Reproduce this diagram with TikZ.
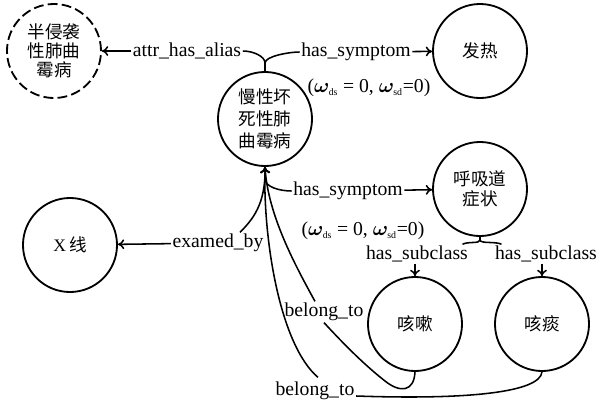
\documentclass[tikz,border=0pt]{standalone}
\usepackage{amsmath,bm}
\usepackage{fontspec}
\setmainfont{Liberation Serif}
\newfontfamily\cjk{Noto Sans CJK SC}
\usetikzlibrary{calc,arrows.meta}
\newcommand{\wt}[1]{$\bm{\omega}_{\scriptscriptstyle\mathrm{#1}}$}
\begin{document}
\begin{tikzpicture}[x=0.025cm,y=-0.025cm,
  concept/.style={circle,draw,line width=1.3pt,minimum size=2.35cm,inner sep=0pt,
                  align=center,font=\cjk\fontsize{12.5}{15.5}\selectfont},
  aliasnode/.style={concept,dash pattern=on 7pt off 3pt,font=\cjk\fontsize{12.5}{13.5}\selectfont},
  rel/.style={inner sep=1pt,font=\fontsize{14}{16}\selectfont},
  link/.style={line width=1.1pt},
  arr/.style={link,-{To[length=4.5pt,width=7pt]}},
]
\useasboundingbox (0,0) rectangle (600,408);

% concepts
\node[aliasnode] (alias) at (54,51) {半侵袭\\性肺曲\\霉病};
\node[concept] (main) at (265,119) {慢性坏\\死性肺\\曲霉病};
\node[concept] (fever) at (480,51) {发热};
\node[concept,font=\cjk\fontsize{12.5}{14.2}\selectfont] (resp) at (480,189) {呼吸道\\症状};
\node[concept] (xray) at (70,245) {{\rmfamily X}\,线};
\node[concept] (cough) at (415,324) {咳嗽};
\node[concept] (phlegm) at (542,324) {咳痰};

% relation labels
\node[rel] (lalias) at (187,51) {attr\_has\_alias};
\node[rel] (lsym1) at (356,52) {has\_symptom};
\node[rel] (w1) at (369,88) {(\wt{ds} = 0, \wt{sd}=0)};
\node[rel] (lsym2) at (348,191) {has\_symptom};
\node[rel] (w2) at (363,231) {(\wt{ds} = 0, \wt{sd}=0)};
\node[rel] (lexam) at (218,243) {examed\_by};
\node[rel] (lsub1) at (417,254) {has\_subclass};
\node[rel] (lsub2) at (546,254) {has\_subclass};
\node[rel] (lbel1) at (324,312) {belong\_to};
\node[rel] (lbel2) at (315,391) {belong\_to};

% edges leaving the top of the main concept
\draw[link] (main.north) -- ++(0,-8) .. controls +(0,-7) and +(10,0) .. (lalias.east);
\draw[arr] (lalias) -- (alias);
\draw[link] (main.north) -- ++(0,-8) .. controls +(0,-7) and +(-10,0) .. (lsym1.west);
\draw[arr] (lsym1) -- (fever);

% edges leaving the bottom of the main concept
\draw[link] (main.south) -- ++(0,12) .. controls +(0,8) and +(-12,0) .. (lsym2.west);
\draw[arr] (lsym2) -- (resp);
\draw[link] (main.south) .. controls (266,205) and (252,220) .. ($(lexam.north)+(22,0)$);
\draw[arr] (lexam) -- (xray);

% subclasses
\draw[link] (resp.south) -- ++(0,3) .. controls +(0,4) and +(6,-3) .. ($(lsub1.north east)+(-7,0)$);
\draw[link] (resp.south) -- ++(0,3) .. controls +(0,4) and +(-6,-3) .. ($(lsub2.north west)+(8,0)$);
\draw[arr] (lsub1.south -| cough.north) -- (cough.north);
\draw[arr] (lsub2.south -| phlegm.north) -- (phlegm.north);

% belong_to back to the main concept
\draw[link] (cough.south) .. controls (414,392) and (400,393) .. (385,381)
  .. controls (362,363) and (340,340) .. (lbel1.south);
\draw[arr] ($(lbel1.north)+(-9,0)$) .. controls (295,265) and (268,215) .. (main.south);
\draw[link] (phlegm.south) .. controls (540,392) and (470,400) .. ($(lbel2.east)+(0,5)$);
\draw[arr] ($(lbel2.north)+(3,-3)$) .. controls (280,345) and (263,240) .. (main.south);
\end{tikzpicture}
\end{document}
